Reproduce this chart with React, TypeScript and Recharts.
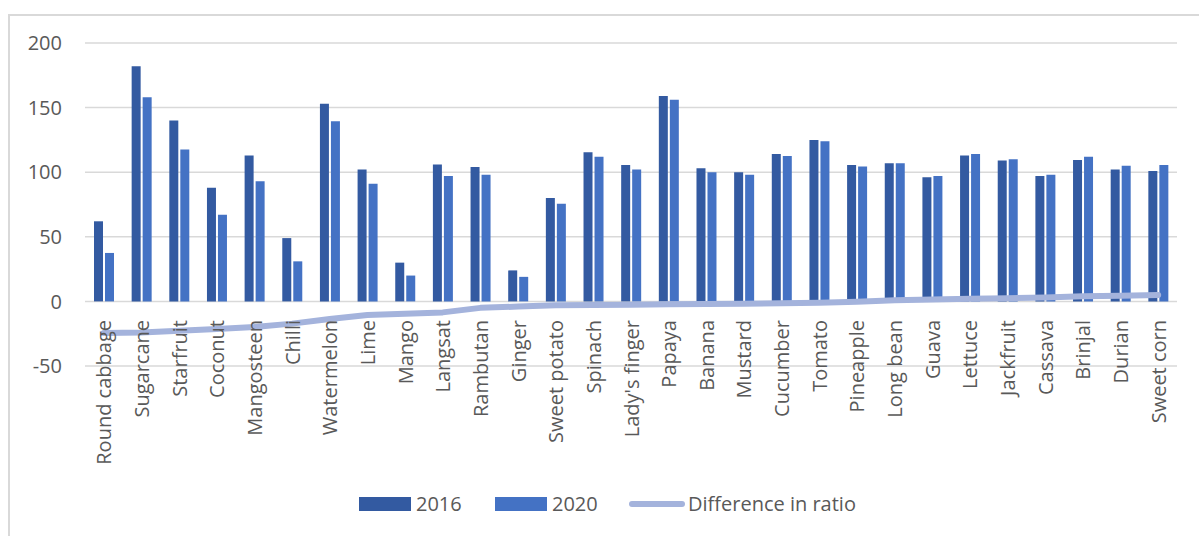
import React from 'react';
import { ComposedChart, Bar, Line, XAxis, YAxis, CartesianGrid, Legend } from 'recharts';

const categories = [
  'Round cabbage', 'Sugarcane', 'Starfruit', 'Coconut', 'Mangosteen', 'Chilli', 'Watermelon', 'Lime',
  'Mango', 'Langsat', 'Rambutan', 'Ginger', 'Sweet potato', 'Spinach', "Lady's finger", 'Papaya',
  'Banana', 'Mustard', 'Cucumber', 'Tomato', 'Pineapple', 'Long bean', 'Guava', 'Lettuce',
  'Jackfruit', 'Cassava', 'Brinjal', 'Durian', 'Sweet corn'
];

const values2016 = [62, 182, 140, 88, 113, 49, 153, 102, 30, 106, 104, 24, 80, 115.5, 105.5, 159, 103, 100, 114, 125, 105.5, 107, 96, 113, 109, 97, 109.5, 102, 101];
const values2020 = [37.5, 158, 117.5, 67, 93, 31, 139.5, 91, 20, 97, 98, 19, 75.5, 112, 102, 156, 100, 98, 112.5, 124, 104.5, 107, 97, 114, 110, 98, 112, 105, 105.5];
const diffRatio = [-24.4, -24, -22.7, -21.4, -19.8, -17.2, -13.6, -10.5, -9.5, -8.5, -5, -4, -3, -2.8, -2.5, -2.2, -2, -1.8, -1.5, -1, -0.3, 0.8, 1.5, 2, 2.5, 3, 4, 4.3, 5];

const yTicks = [-50, 0, 50, 100, 150, 200];

const data = categories.map((name, i) => ({
  name,
  y2016: values2016[i],
  y2020: values2020[i],
  diff: diffRatio[i]
}));

const FONT = '"Open Sans", sans-serif';
const TEXT = '#595959';
const C2016 = '#335aa1';
const C2020 = '#4472c4';
const CLINE = '#a4b3dc';

// category labels sit just under the zero line, like the Excel original
const CategoryTick = (props: any) => {
  const { x, y, payload } = props;
  return (
    <text
      transform={`translate(${x},${y - 48}) rotate(-90)`}
      textAnchor="end"
      dominantBaseline="central"
      fontFamily={FONT}
      fontSize={20}
      fill={TEXT}
    >
      {payload.value}
    </text>
  );
};

const LegendContent = () => (
  <div style={{ position: 'relative', width: 1199, height: 28, fontFamily: FONT, fontSize: 20, color: TEXT }}>
    <div style={{ position: 'absolute', left: 359, top: 7, width: 52, height: 14, background: C2016 }} />
    <span style={{ position: 'absolute', left: 416, top: 0, lineHeight: '28px' }}>2016</span>
    <div style={{ position: 'absolute', left: 495, top: 7, width: 52, height: 14, background: C2020 }} />
    <span style={{ position: 'absolute', left: 552, top: 0, lineHeight: '28px' }}>2020</span>
    <div style={{ position: 'absolute', left: 629, top: 11, width: 56, height: 6, borderRadius: 3, background: CLINE }} />
    <span style={{ position: 'absolute', left: 688, top: 0, lineHeight: '28px' }}>Difference in ratio</span>
  </div>
);

export default function App() {
  return (
    <div style={{ position: 'absolute', left: 0, top: 0, width: 1199, height: 536, background: '#fff', overflow: 'hidden' }}>
      <div
        style={{
          position: 'absolute', left: 8, top: 14, width: 1200, height: 530,
          borderTop: '2px solid #d9d9d9', borderLeft: '2px solid #d9d9d9'
        }}
      />
      <ComposedChart
        width={1199}
        height={536}
        data={data}
        margin={{ top: 43, right: 22, bottom: 169, left: 0 }}
        barGap={2}
        style={{ position: 'absolute', left: 0, top: 0 }}
      >
        <CartesianGrid vertical={false} stroke="#d9d9d9" strokeWidth={1.5} />
        <XAxis
          dataKey="name"
          axisLine={false}
          tickLine={false}
          tickSize={0}
          height={1}
          interval={0}
          tick={<CategoryTick />}
        />
        <YAxis
          domain={[-50, 200]}
          ticks={yTicks}
          axisLine={false}
          tickLine={false}
          tickSize={0}
          tickMargin={23}
          width={85}
          tick={{ fontFamily: FONT, fontSize: 20, fill: TEXT }}
        />
        <Legend
          layout="horizontal"
          verticalAlign="middle"
          align="center"
          wrapperStyle={{ top: 490, left: 0, width: 1199 }}
          content={<LegendContent />}
        />
        <Bar dataKey="y2016" name="2016" fill={C2016} barSize={9} isAnimationActive={false} />
        <Bar dataKey="y2020" name="2020" fill={C2020} barSize={9} isAnimationActive={false} />
        <Line
          dataKey="diff"
          name="Difference in ratio"
          type="linear"
          stroke={CLINE}
          strokeWidth={6}
          strokeLinecap="round"
          strokeLinejoin="round"
          dot={false}
          activeDot={false}
          isAnimationActive={false}
        />
      </ComposedChart>
    </div>
  );
}
